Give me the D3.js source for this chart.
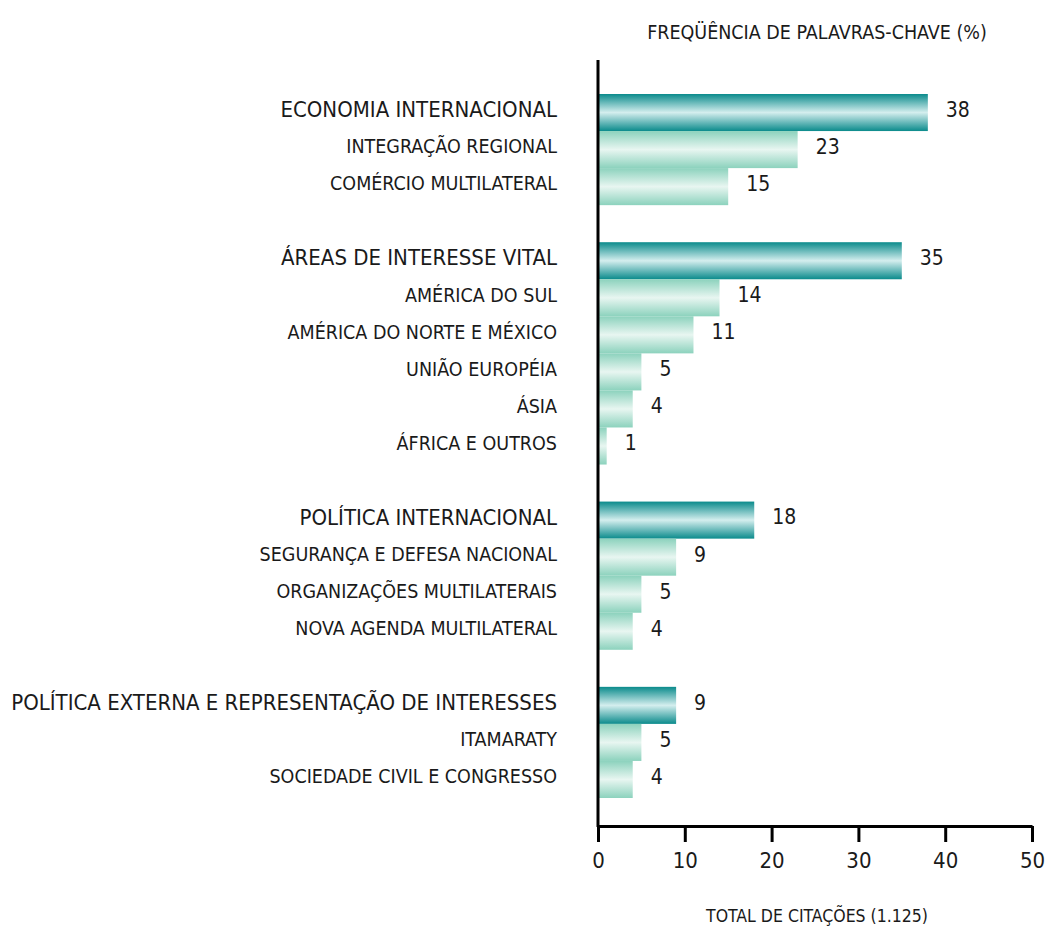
<!DOCTYPE html>
<html>
<head>
<meta charset="utf-8">
<script src="https://cdn.jsdelivr.net/npm/d3@7"></script>
<style>
  body { margin: 0; background: #fff; }
  text { font-family: "DejaVu Sans Condensed", "Noto Sans", sans-serif; fill: #1a1a1a; }
</style>
</head>
<body>
<div id="chart"></div>
<script>
// dados
const labels = [
  'ECONOMIA INTERNACIONAL', 'INTEGRAÇÃO REGIONAL', 'COMÉRCIO MULTILATERAL',
  'ÁREAS DE INTERESSE VITAL', 'AMÉRICA DO SUL', 'AMÉRICA DO NORTE E MÉXICO', 'UNIÃO EUROPÉIA', 'ÁSIA', 'ÁFRICA E OUTROS',
  'POLÍTICA INTERNACIONAL', 'SEGURANÇA E DEFESA NACIONAL', 'ORGANIZAÇÕES MULTILATERAIS', 'NOVA AGENDA MULTILATERAL',
  'POLÍTICA EXTERNA E REPRESENTAÇÃO DE INTERESSES', 'ITAMARATY', 'SOCIEDADE CIVIL E CONGRESSO'
];
const values = [38, 23, 15, 35, 14, 11, 5, 4, 1, 18, 9, 5, 4, 9, 5, 4];
const isGroup = [1, 0, 0, 1, 0, 0, 0, 0, 0, 1, 0, 0, 0, 1, 0, 0];
const xTicks = [0, 10, 20, 30, 40, 50];

var width = 1045, height = 927;

var svg = d3.select("#chart").append("svg")
  .attr("width", width)
  .attr("height", height);

// row keys, with an empty row before each new group
var rows = [];
labels.forEach(function (l, i) {
  if (isGroup[i] && i > 0) rows.push("gap" + i);
  rows.push(l);
});

var x = d3.scaleLinear().domain([0, 50]).range([598, 1032]);
var y = d3.scaleBand().domain(rows).range([94, 798]).paddingInner(0);

// gradients
var defs = svg.append("defs");
function grad(id, edge, mid) {
  var g = defs.append("linearGradient").attr("id", id)
    .attr("x1", 0).attr("x2", 0).attr("y1", 0).attr("y2", 1);
  g.append("stop").attr("offset", "0%").attr("stop-color", edge);
  g.append("stop").attr("offset", "50%").attr("stop-color", mid);
  g.append("stop").attr("offset", "100%").attr("stop-color", edge);
}
grad("gMain", "#0b8b8c", "#d4eeee");
grad("gSub", "#8cd2bd", "#e8f6f1");

var data = labels.map(function (l, i) { return { label: l, value: values[i], group: isGroup[i] }; });

svg.append("g").selectAll("rect")
  .data(data)
  .enter().append("rect")
  .attr("x", x(0))
  .attr("y", function (d) { return y(d.label); })
  .attr("width", function (d) { return x(d.value) - x(0); })
  .attr("height", y.bandwidth())
  .attr("fill", function (d) { return d.group ? "url(#gMain)" : "url(#gSub)"; });

// category labels
svg.append("g").selectAll("text")
  .data(data)
  .enter().append("text")
  .attr("x", 557)
  .attr("y", function (d) { return y(d.label) + y.bandwidth() / 2 - 3; })
  .attr("dy", "0.35em")
  .attr("text-anchor", "end")
  .style("font-size", function (d) { return d.group ? "22px" : "19.5px"; })
  .text(function (d) { return d.label; });

// value labels
svg.append("g").selectAll("text")
  .data(data)
  .enter().append("text")
  .attr("x", function (d) { return x(d.value) + 18; })
  .attr("y", function (d) { return y(d.label) + y.bandwidth() / 2 - 3; })
  .attr("dy", "0.35em")
  .style("font-size", "21px")
  .text(function (d) { return d.value; });

// axes
svg.append("line")
  .attr("x1", x(0)).attr("x2", x(0))
  .attr("y1", 60).attr("y2", 827)
  .attr("stroke", "#000").attr("stroke-width", 3);

var xAxis = svg.append("g")
  .attr("transform", "translate(0,826)")
  .call(d3.axisBottom(x).tickValues(xTicks).tickSize(16).tickPadding(10).tickSizeOuter(0));
xAxis.select(".domain").attr("stroke", "#000").attr("stroke-width", 3);
xAxis.selectAll(".tick line").attr("stroke", "#000").attr("stroke-width", 3);
xAxis.selectAll(".tick text")
  .style("font-size", "22px")
  .style("font-family", "\"DejaVu Sans Condensed\", sans-serif")
  .attr("fill", "#1a1a1a");

svg.append("text")
  .attr("x", 817).attr("y", 39)
  .attr("text-anchor", "middle")
  .style("font-size", "19.5px")
  .text("FREQÜÊNCIA DE PALAVRAS-CHAVE (%)");

svg.append("text")
  .attr("x", 817).attr("y", 922)
  .attr("text-anchor", "middle")
  .style("font-size", "17.5px")
  .text("TOTAL DE CITAÇÕES (1.125)");
</script>
</body>
</html>
